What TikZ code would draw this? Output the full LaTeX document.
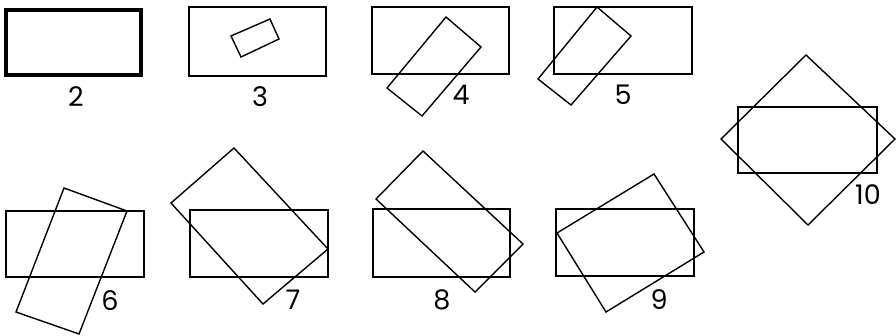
\documentclass[tikz,border=0pt]{standalone}
\usepackage{fontspec}
\setmainfont{Poppins}
\begin{document}
\begin{tikzpicture}[x=1pt,y=-1pt,
  frame/.style={draw=black,line width=1.4pt,line join=miter},
  thickframe/.style={draw=black,line width=3.6pt,line join=miter},
  tilted/.style={draw=black,line width=1.4pt,line join=miter},
  lbl/.style={inner sep=0pt,font=\fontsize{27}{27}\selectfont}]
\useasboundingbox (0,0) rectangle (896,335);
% 2
\draw[thickframe] (6,10) rectangle (141,75);
\node[lbl] (l2) at (76,97) {2};
% 3
\draw[frame] (189,7) rectangle (326,76);
\draw[tilted] (231,36) -- (270,19) -- (279,39) -- (241,57) -- cycle;
\node[lbl] (l3) at (260,97) {3};
% 4
\draw[frame] (372,7) rectangle (509,74);
\draw[tilted] (446,17) -- (481,47) -- (422,116) -- (387,88) -- cycle;
\node[lbl] (l4) at (461,95) {4};
% 5
\draw[frame] (554,7) rectangle (692,74);
\draw[tilted] (597,7) -- (631,36) -- (571,105) -- (538,79) -- cycle;
\node[lbl] (l5) at (623,95) {5};
% 10
\draw[frame] (738,107) rectangle (877,173);
\draw[tilted] (806,55) -- (895,139) -- (808,225) -- (721,139) -- cycle;
\node[lbl] (l10) at (868,195) {10};
% 6
\draw[frame] (6,211) rectangle (144,277);
\draw[tilted] (64,188) -- (127,211) -- (79,334) -- (16,312) -- cycle;
\node[lbl] (l6) at (110,301) {6};
% 7
\draw[frame] (190,210) rectangle (328,277);
\draw[tilted] (234,148) -- (328,249) -- (263,304) -- (171,203) -- cycle;
\node[lbl] (l7) at (293,300) {7};
% 8
\draw[frame] (373,209) rectangle (510,277);
\draw[tilted] (423,151) -- (523,244) -- (475,292) -- (376,199) -- cycle;
\node[lbl] (l8) at (442,300) {8};
% 9
\draw[frame] (556,209) rectangle (694,276);
\draw[tilted] (557,233) -- (654,174) -- (704,252) -- (606,312) -- cycle;
\node[lbl] (l9) at (659,300) {9};
\end{tikzpicture}
\end{document}
